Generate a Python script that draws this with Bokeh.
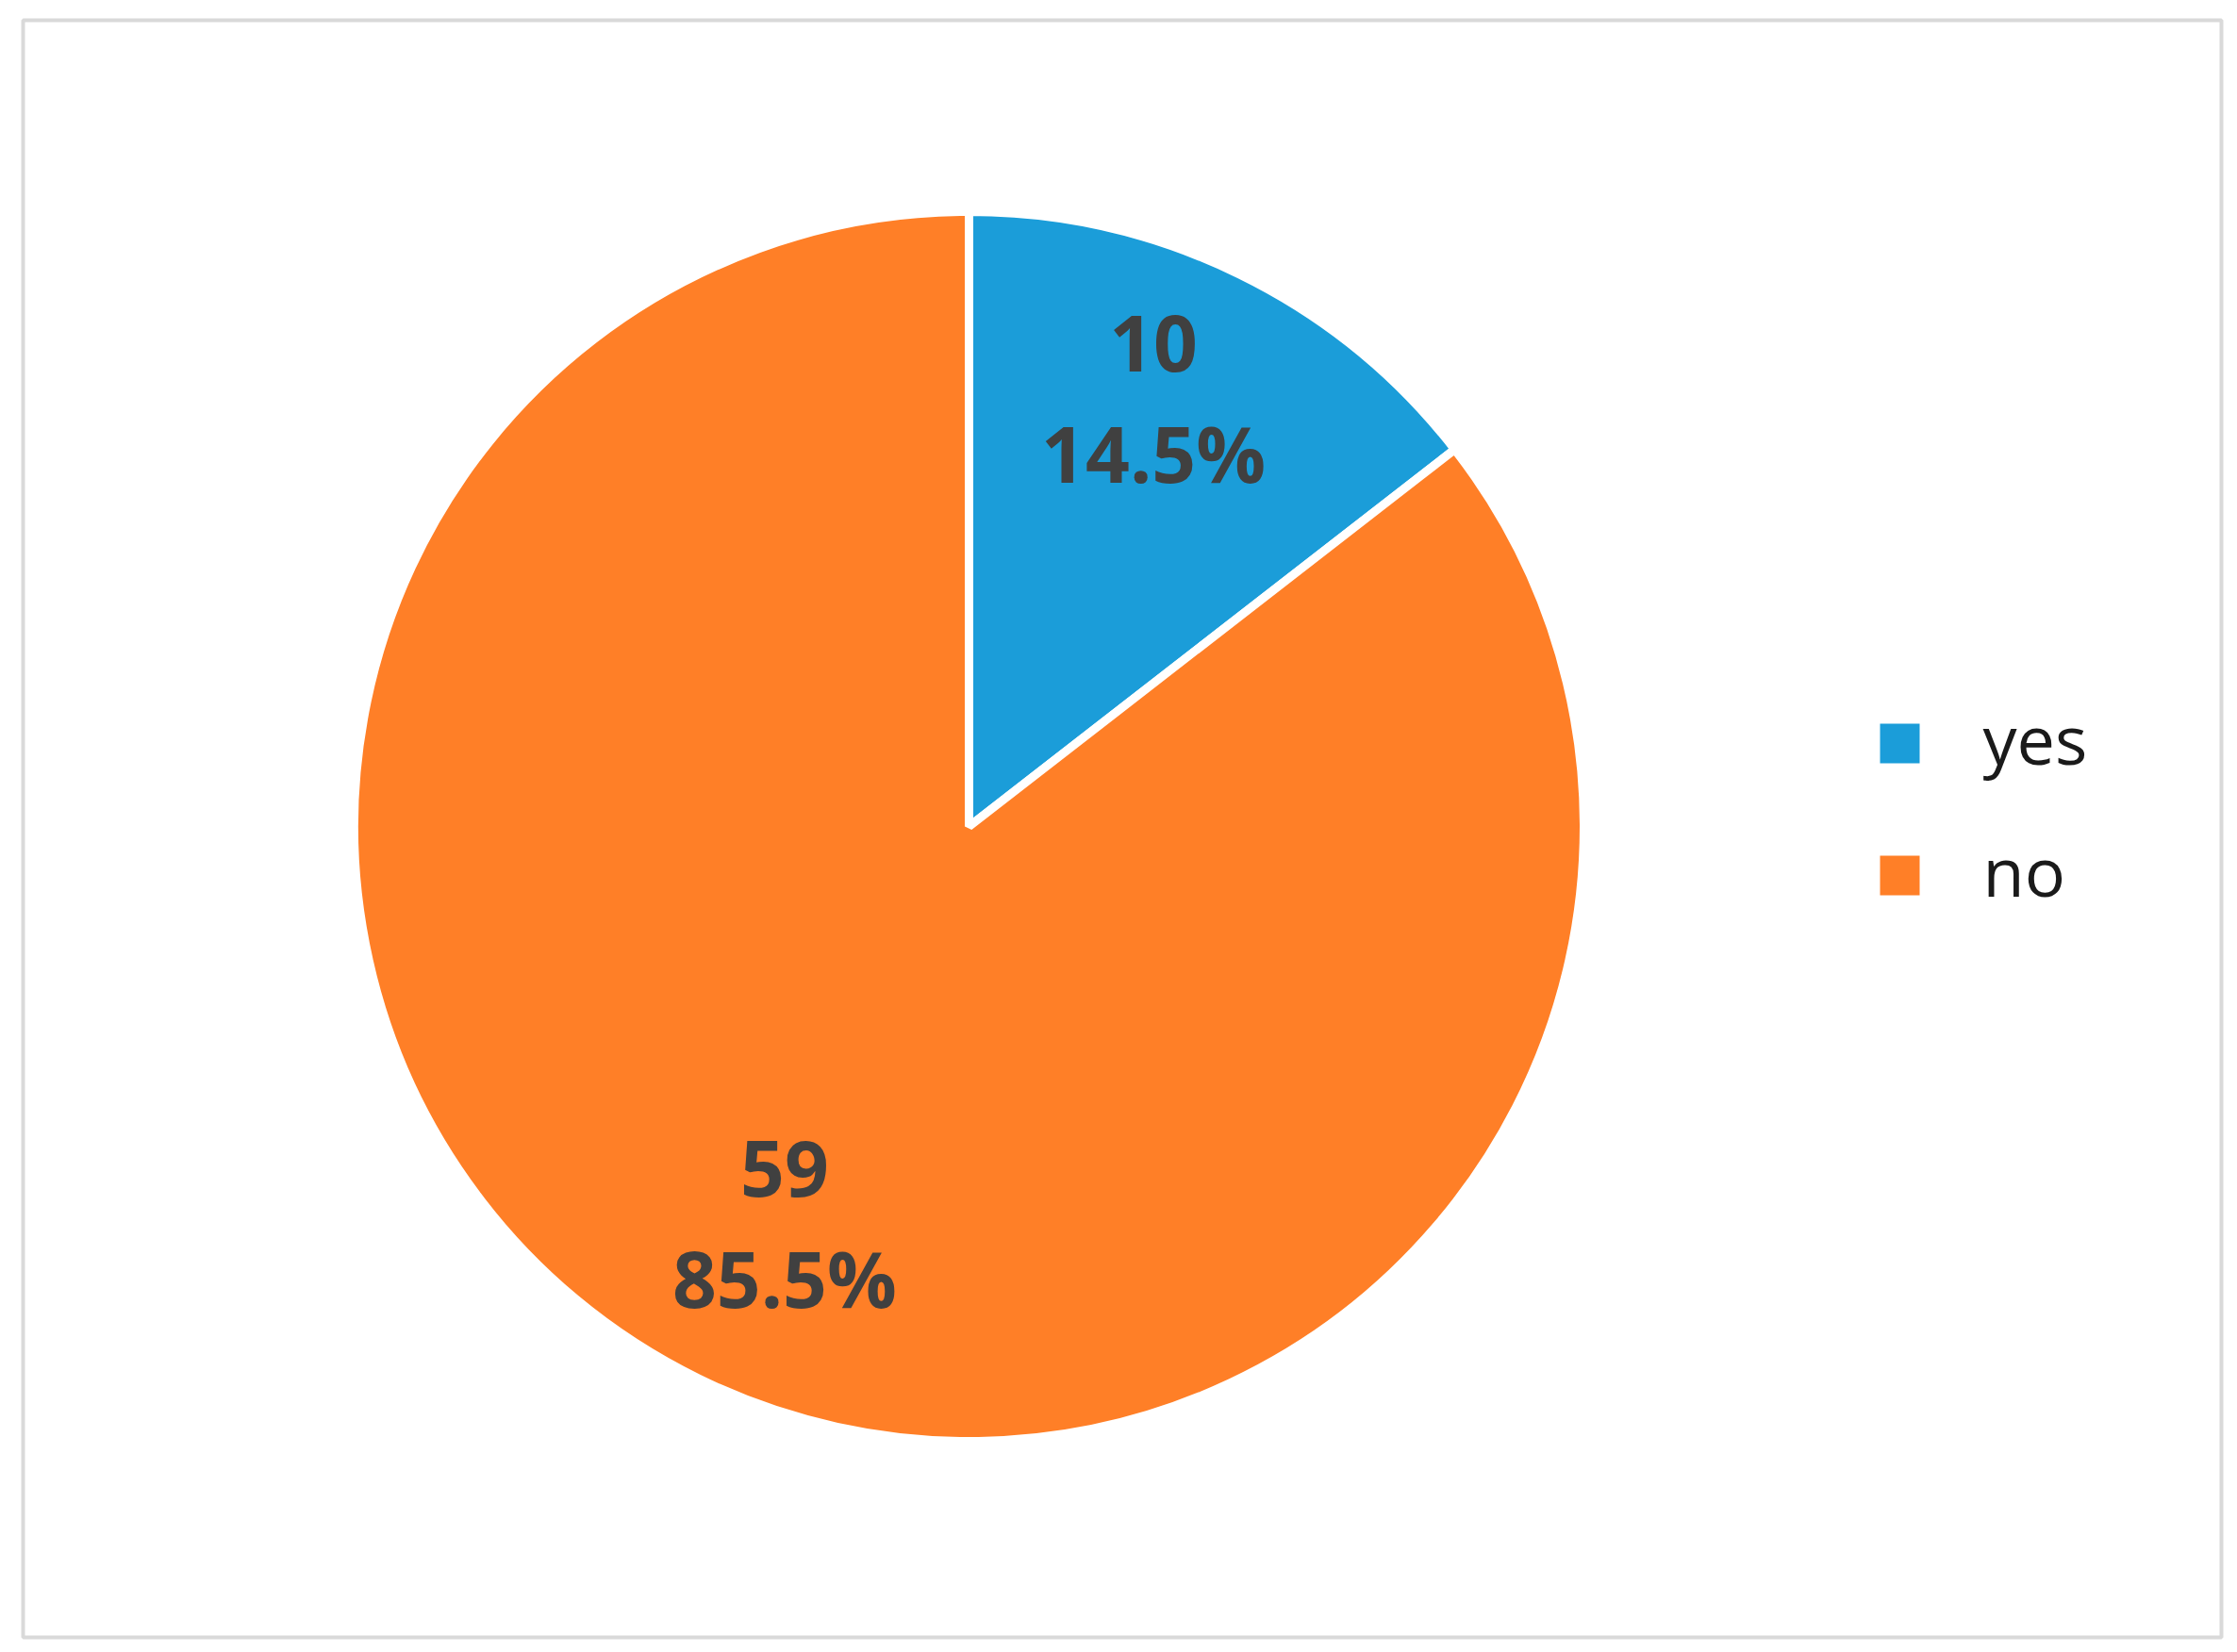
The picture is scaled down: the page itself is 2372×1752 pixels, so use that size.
import numpy as np
from bokeh.plotting import figure
from bokeh.models import Range1d, ColumnDataSource
from bokeh.core.properties import value
from bokeh.embed import file_html
from bokeh.resources import INLINE

# ---- data ----
categories = ["yes", "no"]
counts = [10, 59]
colors = ["#1B9DD9", "#FF7F27"]

total = sum(counts)
pcts = [c / total * 100 for c in counts]
labels_count = [str(c) for c in counts]
labels_pct = [f"{p:.1f}%" for p in pcts]

# ---- layout constants (pixel units in frame) ----
W, H = 2364, 1744
ML, MR, MT, MB = 24, 9, 21, 8
FW, FH = W - ML - MR, H - MT - MB
CX, CY, R = 1003, 860, 652
LABEL_FRAC = 0.735
LABEL_ROT = np.deg2rad(2.0)

fracs = np.array(counts) / total
ends_cum = np.cumsum(fracs)
starts_cum = ends_cum - fracs
start_angles = np.pi / 2 - 2 * np.pi * starts_cum
end_angles = np.pi / 2 - 2 * np.pi * ends_cum
mid_angles = (start_angles + end_angles) / 2 + LABEL_ROT

src = ColumnDataSource(dict(
    x=[CX] * len(counts), y=[CY] * len(counts),
    start=start_angles, end=end_angles, color=colors,
    lx=CX + LABEL_FRAC * R * np.cos(mid_angles),
    ly=CY + LABEL_FRAC * R * np.sin(mid_angles),
    cnt=labels_count, pct=labels_pct,
))

p = figure(width=W, height=H, output_backend="svg", toolbar_location=None,
           x_range=Range1d(0, FW), y_range=Range1d(0, FH),
           min_border_left=ML, min_border_right=MR,
           min_border_top=MT, min_border_bottom=MB)
p.axis.visible = False
p.grid.visible = False
p.background_fill_color = "white"
p.border_fill_color = "white"
p.outline_line_color = "#D9D9D9"
p.outline_line_width = 4

p.wedge(x="x", y="y", radius=R, start_angle="start", end_angle="end",
        direction="clock", fill_color="color", line_color="white",
        line_width=9, source=src)

p.text(x="lx", y="ly", text="cnt", source=src, text_align="center",
       text_baseline="middle", y_offset=-75,
       text_font=value("Open Sans"), text_font_style="bold",
       text_font_size="82px", text_color="#404040")
p.text(x="lx", y="ly", text="pct", source=src, text_align="center",
       text_baseline="middle", y_offset=41,
       text_font=value("Open Sans"), text_font_style="bold",
       text_font_size="82px", text_color="#404040")

# ---- legend ----
LEG_X, LEG_Y0, LEG_DY, LEG_TX = 1990, 948, 140, 2078
leg = ColumnDataSource(dict(
    x=[LEG_X] * len(categories),
    y=[LEG_Y0 - i * LEG_DY for i in range(len(categories))],
    tx=[LEG_TX] * len(categories),
    color=colors, label=categories,
))
p.scatter(x="x", y="y", marker="square", size=42, fill_color="color",
          line_color=None, source=leg)
p.text(x="tx", y="y", text="label", source=leg, text_align="left",
       text_baseline="middle", text_font=value("Open Sans"),
       text_font_size="72px", text_color="#1a1a1a", y_offset=-6)

open("out.html", "w").write(file_html(p, INLINE))
